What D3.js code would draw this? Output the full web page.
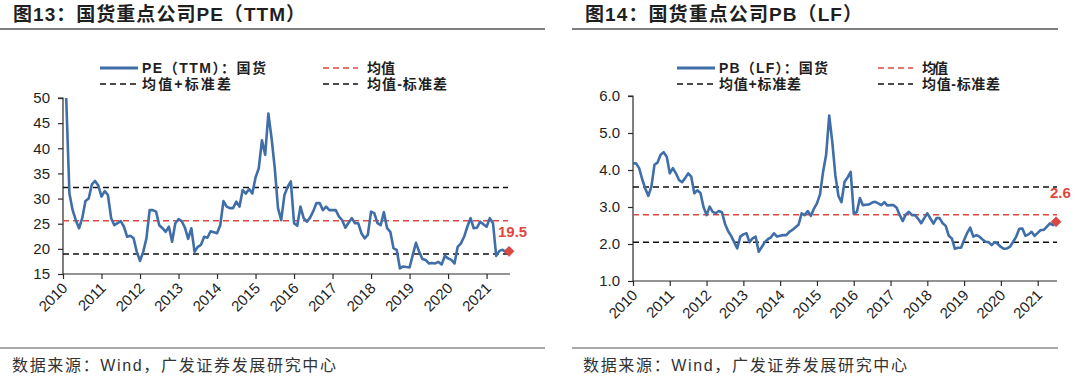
<!DOCTYPE html>
<html><head><meta charset="utf-8">
<script src="https://cdn.jsdelivr.net/npm/d3@7/dist/d3.min.js"></script>
<style>
html,body{margin:0;padding:0;background:#fff;}
svg{display:block;font-family:"Liberation Sans",Arial,"Noto Sans CJK SC",sans-serif;}
</style></head>
<body>
<svg id="chart" width="1080" height="378"></svg>
<script>
// ---------- DATA ----------
const yearLabels = ["2010","2011","2012","2013","2014","2015","2016","2017","2018","2019","2020","2021"];
// PE(TTM) monthly, starting 2010-02
const peValues = [
 50,31.0,27.7,25.7,24.1,26.1,29.5,30.0,32.8,33.5,32.6,30.4,
 31.5,30.7,26.1,24.7,25.1,25.5,24.4,22.4,22.6,22.1,19.4,17.6,
 19.4,22.1,27.7,27.7,27.4,24.7,24.1,23.4,24.4,21.4,25.1,25.9,
 25.5,24.2,22.0,24.1,19.4,20.4,20.8,22.4,22.2,23.5,23.3,23.1,
 24.7,29.5,28.4,28.1,28.1,29.4,28.4,31.7,31.0,31.9,31.0,34.2,
 36.0,41.6,38.7,46.9,42.0,36.0,28.1,25.7,30.7,32.3,33.4,25.1,
 24.6,28.4,26.1,25.4,26.2,27.5,29.1,29.1,27.7,28.4,27.7,27.7,
 27.7,26.4,25.7,24.2,25.2,26.1,25.1,25.1,23.1,22.1,22.8,27.4,
 27.1,25.1,24.7,27.3,24.1,23.4,20.1,19.8,16.1,16.5,16.4,16.3,
 18.8,21.2,19.4,18.0,17.8,17.1,17.2,17.1,17.4,16.9,18.6,18.1,
 17.8,17.1,20.4,21.1,22.4,24.4,26.1,24.1,24.2,25.4,24.9,24.4,
 26.1,25.1,18.6,19.6,19.8,19.4,19.5
];
// PB(LF) monthly, starting 2010-01
const pbValues = [
 4.18,4.18,4.05,3.75,3.50,3.30,3.55,4.14,4.20,4.41,4.48,4.36,
 3.91,4.05,3.91,3.73,3.67,3.78,3.91,3.82,3.37,3.45,3.38,3.00,
 2.78,3.01,2.87,2.83,2.89,2.86,2.55,2.35,2.22,2.05,1.88,2.20,
 2.26,2.29,2.05,2.15,2.20,1.79,1.92,2.05,2.13,2.18,2.29,2.20,
 2.22,2.24,2.24,2.33,2.38,2.45,2.52,2.83,2.78,2.89,2.76,2.95,
 3.10,3.34,3.95,4.41,5.47,4.76,3.86,3.30,3.13,3.68,3.80,3.95,
 2.83,2.86,3.24,3.05,3.06,3.07,3.12,3.14,3.10,3.05,3.13,3.04,
 3.05,3.05,2.98,2.78,2.62,2.80,2.87,2.78,2.78,2.68,2.56,2.70,
 2.83,2.69,2.55,2.70,2.70,2.56,2.49,2.22,2.15,1.87,1.90,1.90,
 2.11,2.30,2.44,2.20,2.24,2.20,2.12,2.06,2.05,1.97,2.05,2.00,
 1.92,1.87,1.88,1.93,2.06,2.20,2.41,2.42,2.22,2.26,2.33,2.22,
 2.30,2.38,2.38,2.47,2.56,2.51,2.60
];
// [mean, mean+sd, mean-sd]
const peStats = [25.6, 32.2, 19.0];
const pbStats = [2.79, 3.54, 2.05];
const peTicks = [15,20,25,30,35,40,45,50];
const pbTicks = [1,2,3,4,5,6];
const peLast = "19.5";
const pbLast = "2.6";
const titles = ["图13：国货重点公司PE（TTM）","图14：国货重点公司PB（LF）"];
const legendNames = [["PE（TTM）：国货","均值","均值+标准差","均值-标准差"],
                     ["PB（LF）：国货","均值","均值+标准差","均值-标准差"]];
const sourceText = "数据来源：Wind，广发证券发展研究中心";

// ---------- STYLE ----------
const BLUE = "#3F6EA9", RED = "#E0473E", DARK = "#1f1f1f", AXIS = "#2b2b2b";
const svg = d3.select("#chart");

function panel(cfg){
  const g = svg.append("g");
  // title
  g.append("text").attr("x", cfg.titleX).attr("y", 21)
    .attr("font-size", 19).attr("font-weight", "bold").attr("fill", DARK)
    .attr("textLength", cfg.titleLen).attr("lengthAdjust","spacing")
    .text(cfg.title);
  // rules
  g.append("line").attr("x1", cfg.ruleX1).attr("x2", cfg.ruleX2).attr("y1", 29).attr("y2", 29)
    .attr("stroke", "#555").attr("stroke-width", 1.5);
  g.append("line").attr("x1", cfg.ruleX1).attr("x2", cfg.ruleX2).attr("y1", 348).attr("y2", 348)
    .attr("stroke", "#555").attr("stroke-width", 1.2);
  g.append("text").attr("x", cfg.srcX).attr("y", 371).attr("font-size", 16).attr("fill", "#333")
    .attr("textLength", 324).attr("lengthAdjust","spacing").text(sourceText);

  const x = d3.scaleLinear().domain([0, cfg.xMax]).range([cfg.x0, cfg.x1]);
  const y = d3.scaleLinear().domain(cfg.yDomain).range([cfg.yBottom, cfg.yTop]);

  // y axis
  const ya = g.append("g").attr("transform", `translate(${cfg.x0},0)`)
    .call(d3.axisLeft(y).tickValues(cfg.yTicks).tickSize(5).tickPadding(8).tickFormat(cfg.yFmt));
  ya.select(".domain").attr("stroke", AXIS).attr("stroke-width", 1.2).attr("d", `M-5,${cfg.yTop}H0V${cfg.yBottom}`);
  ya.selectAll(".tick line").attr("stroke", AXIS).attr("stroke-width", 1.2);
  ya.selectAll(".tick text").attr("font-size", 15).attr("fill", DARK).attr("font-family", "Liberation Sans, Arial");

  // x axis
  const xa = g.append("g").attr("transform", `translate(0,${cfg.yBottom})`)
    .call(d3.axisBottom(x).tickValues(yearLabels.map((d,i)=>i*12)).tickSize(5).tickFormat((d,i)=>yearLabels[i]));
  xa.select(".domain").attr("stroke", AXIS).attr("stroke-width", 1.2).attr("d", `M${cfg.x0},0H${cfg.x1}`);
  xa.selectAll(".tick line").attr("stroke", AXIS).attr("stroke-width", 1.2);
  xa.selectAll(".tick text").attr("font-size", 15).attr("fill", DARK)
    .attr("font-family", "Liberation Sans, Arial")
    .attr("text-anchor", "end").attr("dy", null).attr("y", 0)
    .attr("transform", "translate(5,15) rotate(-45)");

  // stat lines
  const statColors = [RED, "#111", "#111"];
  cfg.stats.forEach((v,i)=>{
    g.append("line").attr("x1", cfg.x0).attr("x2", cfg.dashEnd)
      .attr("y1", y(v)).attr("y2", y(v))
      .attr("stroke", statColors[i]).attr("stroke-width", 1.5).attr("stroke-dasharray", "6,4");
  });

  // series line
  const pts = cfg.values.map((v,i)=>[i + cfg.start, v]);
  g.append("path").datum(pts)
    .attr("fill","none").attr("stroke", BLUE).attr("stroke-width", 2.6).attr("stroke-linejoin","round")
    .attr("d", d3.line().x(d=>x(d[0])).y(d=>y(d[1])));

  // last marker
  const last = pts[pts.length-1];
  g.append("path").attr("d", d3.symbol(d3.symbolSquare, 50)())
    .attr("transform", `translate(${x(last[0])},${y(last[1])}) rotate(45)`)
    .attr("fill", RED).attr("stroke", "#B0475A").attr("stroke-width", 0.6);
  g.append("text").attr("x", cfg.lblX).attr("y", cfg.lblY)
    .attr("font-size", 15).attr("font-weight","bold").attr("fill", RED)
    .text(cfg.lastLabel);

  // legend
  const L = cfg.leg;
  const names = cfg.names;
  g.append("line").attr("x1", L.a).attr("x2", L.a + 38).attr("y1", 68).attr("y2", 68)
    .attr("stroke", BLUE).attr("stroke-width", 3);
  g.append("line").attr("x1", L.b).attr("x2", L.b + 35).attr("y1", 68).attr("y2", 68)
    .attr("stroke", RED).attr("stroke-width", 1.5).attr("stroke-dasharray", "6,4");
  g.append("line").attr("x1", L.a).attr("x2", L.a + 38).attr("y1", 84).attr("y2", 84)
    .attr("stroke", "#111").attr("stroke-width", 1.5).attr("stroke-dasharray", "6,4");
  g.append("line").attr("x1", L.b).attr("x2", L.b + 35).attr("y1", 84).attr("y2", 84)
    .attr("stroke", "#111").attr("stroke-width", 1.5).attr("stroke-dasharray", "6,4");
  const lt = [[L.a+42, 73, names[0], L.w[0]],[L.b+44, 73, names[1], L.w[1]],
              [L.a+42, 89, names[2], L.w[2]],[L.b+44, 89, names[3], L.w[3]]];
  lt.forEach(t=>{
    g.append("text").attr("x", t[0]).attr("y", t[1]).attr("font-size", 14).attr("font-weight","bold")
      .attr("fill", DARK).attr("textLength", t[3]).attr("lengthAdjust","spacing").text(t[2]);
  });
}

panel({title: titles[0], titleX: 13, titleLen: 292, ruleX1: 0, ruleX2: 545, srcX: 12,
  x0: 63, x1: 510, xMax: 139.3, yDomain: [15,50], yBottom: 274, yTop: 98, yTicks: peTicks,
  yFmt: d3.format("d"), stats: peStats, dashEnd: 508, values: peValues, start: 1,
  lastLabel: peLast, lblX: 498, lblY: 237, names: legendNames[0],
  leg: {a: 100, b: 323, w: [124, 28, 89, 80]}});

panel({title: titles[1], titleX: 585, titleLen: 277, ruleX1: 572, ruleX2: 1058, srcX: 583,
  x0: 633, x1: 1057, xMax: 138.3, yDomain: [1,6], yBottom: 281, yTop: 96, yTicks: pbTicks,
  yFmt: d3.format(".1f"), stats: pbStats, dashEnd: 1057, values: pbValues, start: 0,
  lastLabel: pbLast, lblX: 1050, lblY: 198, names: legendNames[1],
  leg: {a: 677, b: 878, w: [109, 26, 82, 78]}});
</script>
</body></html>
